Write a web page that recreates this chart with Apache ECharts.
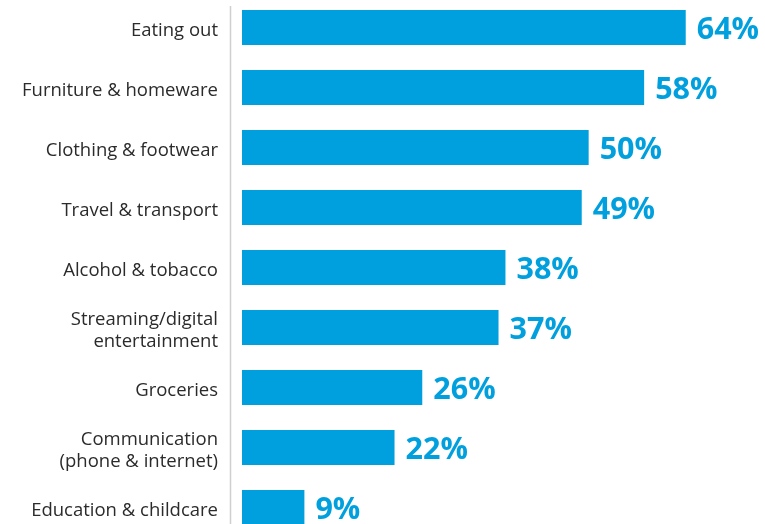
<!DOCTYPE html>
<html>
<head>
<meta charset="utf-8">
<script src="https://cdn.jsdelivr.net/npm/echarts@6/dist/echarts.min.js"></script>
<style>
  html, body { margin: 0; padding: 0; background: #fff; }
  #chart { width: 765px; height: 524px; }
</style>
</head>
<body>
<div id="chart"></div>
<script>
// Spending categories, listed top to bottom
const categories = [
  'Eating out',
  'Furniture & homeware',
  'Clothing & footwear',
  'Travel & transport',
  'Alcohol & tobacco',
  'Streaming/digital\nentertainment',
  'Groceries',
  'Communication\n(phone & internet)',
  'Education & childcare'
];
// Share of respondents (%)
const shares = [64, 58, 50, 49, 38, 37, 26, 22, 9];

const blue = '#00A0DF';
const chart = echarts.init(document.getElementById('chart'), null, { renderer: 'canvas' });

chart.setOption({
  animation: false,
  grid: [
    // bars: categories sit on the ticks (boundaryGap off)
    { left: 242, right: 3, top: 27.5, bottom: 16.5 },
    // category names, set a touch lower than the bar centres
    { left: 242, right: 3, top: 30.5, bottom: 13.5 }
  ],
  xAxis: [
    { type: 'value', gridIndex: 0, min: 0, max: 75, show: false },
    { type: 'value', gridIndex: 1, min: 0, max: 75, show: false }
  ],
  yAxis: [
    {
      type: 'category',
      gridIndex: 0,
      data: categories,
      inverse: true,
      boundaryGap: false,
      axisLine: { show: false },
      axisTick: { show: false },
      axisLabel: { show: false },
      splitLine: { show: false }
    },
    {
      type: 'category',
      gridIndex: 1,
      data: categories,
      inverse: true,
      boundaryGap: false,
      offset: 12,
      axisLine: { show: false },
      axisTick: { show: false },
      splitLine: { show: false },
      axisLabel: {
        margin: 12,
        color: '#2b2b2b',
        fontFamily: 'Open Sans',
        fontSize: 18.5,
        lineHeight: 22,
        align: 'right'
      }
    }
  ],
  series: [{
    type: 'bar',
    xAxisIndex: 0,
    yAxisIndex: 0,
    data: shares,
    barWidth: 35,
    itemStyle: { color: blue },
    label: {
      show: true,
      position: 'right',
      distance: 11,
      offset: [0, 2.5],
      formatter: '{c}%',
      color: blue,
      fontFamily: 'Open Sans',
      fontWeight: 'bold',
      fontSize: 30.5
    }
  }],
  graphic: [{
    type: 'line',
    shape: { x1: 230.5, y1: 6, x2: 230.5, y2: 524 },
    style: { stroke: '#cfcfcf', lineWidth: 1.5 },
    silent: true
  }]
});
</script>
</body>
</html>
